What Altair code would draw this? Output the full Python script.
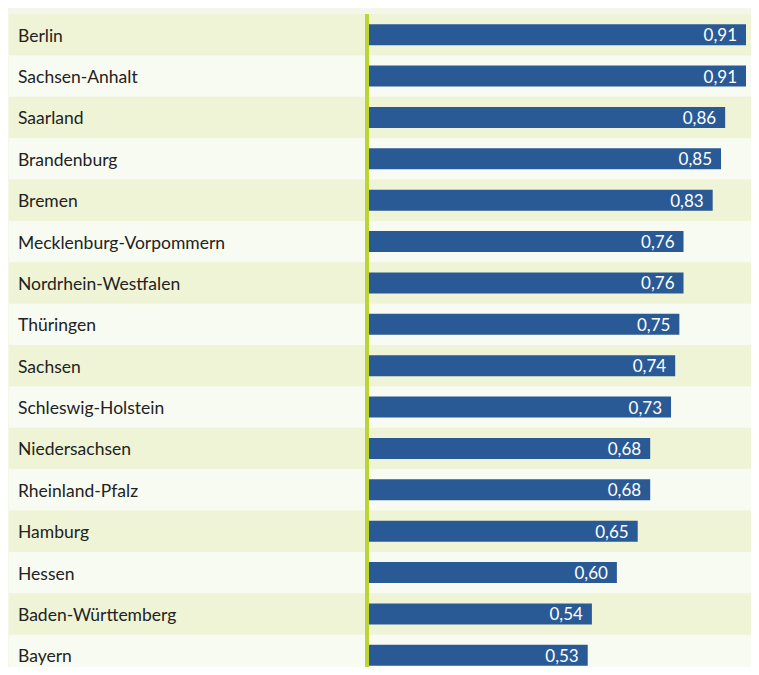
import altair as alt
import pandas as pd

states = ["Berlin", "Sachsen-Anhalt", "Saarland", "Brandenburg", "Bremen",
          "Mecklenburg-Vorpommern", "Nordrhein-Westfalen", "Thüringen", "Sachsen",
          "Schleswig-Holstein", "Niedersachsen", "Rheinland-Pfalz", "Hamburg",
          "Hessen", "Baden-Württemberg", "Bayern"]
values = [0.91, 0.91, 0.86, 0.85, 0.83, 0.76, 0.76, 0.75, 0.74, 0.73,
          0.68, 0.68, 0.65, 0.60, 0.54, 0.53]

df = pd.DataFrame({
    "state": states,
    "value": values,
    "label": [f"{v:.2f}".replace(".", ",") for v in values],
    "parity": [i % 2 for i in range(len(states))],
})

W = 742
H = 653          # visible plot height (SVG is clipped here)
ROWS_H = 662     # full height of the 16 rows
xscale = alt.Scale(domain=[-0.8595, 0.9220], nice=False, zero=False)
yenc = alt.Y("state:N", sort=None, axis=None,
             scale=alt.Scale(paddingInner=0, paddingOuter=0, range=[0, ROWS_H]))

base = alt.Chart(df)

bands = base.mark_rect().encode(
    x=alt.value(0), x2=alt.value(W),
    y=yenc,
    color=alt.Color("parity:N", legend=None,
                    scale=alt.Scale(domain=[0, 1], range=["#eff4d6", "#f8fbf2"])),
)

names = base.mark_text(align="left", baseline="middle", dy=2, font="Lato",
                       fontSize=17.5, color="#222222").encode(
    x=alt.value(9), y=yenc, text="state:N")

bars = base.mark_bar(size=21, color="#2a5a95").encode(
    x=alt.X("value:Q", scale=xscale, axis=None),
    x2=alt.datum(0),
    y=yenc,
)

vals = base.mark_text(align="right", baseline="middle", dx=-9, dy=1.5, font="Lato",
                      fontSize=17, color="white").encode(
    x=alt.X("value:Q", scale=xscale), y=yenc, text="label:N")

rule = base.mark_rule(color="#bcd534", strokeWidth=3).encode(
    x=alt.datum(0), y=alt.value(0), y2=alt.value(ROWS_H))

chart = alt.layer(bands, names, bars, vals, rule).properties(
    width=W, height=H,
    padding={"left": 1, "top": 6, "right": 0, "bottom": 0},
    autosize=alt.AutoSizeParams(type="none"),
    background="#f4f6ea",
).configure_view(stroke=None)

chart.save("out.html", embed_options={"renderer": "svg", "actions": False})
